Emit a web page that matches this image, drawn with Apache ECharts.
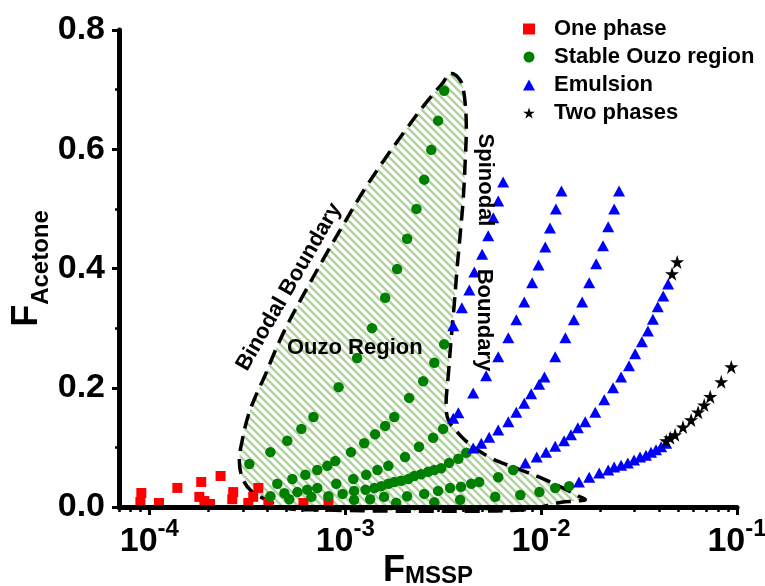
<!DOCTYPE html>
<html>
<head>
<meta charset="utf-8">
<script src="https://cdn.jsdelivr.net/npm/echarts@6/dist/echarts.min.js"></script>
<style>
  html, body { margin: 0; padding: 0; background: #fff; }
  #chart { width: 765px; height: 586px; }
</style>
</head>
<body>
<div id="chart"></div>
<script>
// Phase diagram: F_Acetone against F_MSSP (log scale)

// One phase (red squares)
const onePhase = [
  [9.1e-5, 0.0235], [9.0e-5, 0.0084], [1.12e-4, 0.0067], [1.39e-4, 0.032],
  [1.84e-4, 0.042], [1.80e-4, 0.017], [1.91e-4, 0.010], [2.04e-4, 0.005],
  [2.31e-4, 0.052], [2.68e-4, 0.025], [2.65e-4, 0.013], [3.20e-4, 0.0067],
  [3.39e-4, 0.017], [3.60e-4, 0.032], [4.05e-4, 0.0067], [6.12e-4, 0.0067],
  [8.21e-4, 0.0067]
];

// Stable Ouzo region (green circles)
const ouzoUpper = [
  [3.20e-3, 0.698], [2.98e-3, 0.648], [2.75e-3, 0.599], [2.53e-3, 0.549],
  [2.31e-3, 0.500], [2.07e-3, 0.450], [1.84e-3, 0.399], [1.60e-3, 0.351],
  [1.37e-3, 0.300], [1.15e-3, 0.250], [9.25e-4, 0.201], [6.88e-4, 0.151],
  [5.97e-4, 0.131], [5.06e-4, 0.111], [4.15e-4, 0.092], [3.24e-4, 0.072]
];
const ouzoMiddle = [
  [3.20e-3, 0.273], [2.85e-3, 0.242], [2.50e-3, 0.211], [2.12e-3, 0.183],
  [1.78e-3, 0.151], [1.60e-3, 0.136], [1.42e-3, 0.122], [1.25e-3, 0.107],
  [1.07e-3, 0.092], [8.9e-4, 0.077], [8.1e-4, 0.069], [7.2e-4, 0.062],
  [6.26e-4, 0.054], [5.37e-4, 0.047], [4.50e-4, 0.039]
];
const ouzoLower = [
  [3.16e-3, 0.131], [2.81e-3, 0.116], [2.38e-3, 0.101], [2.02e-3, 0.084],
  [1.66e-3, 0.069], [1.46e-3, 0.062], [1.28e-3, 0.054], [1.10e-3, 0.047],
  [9.0e-4, 0.039], [7.2e-4, 0.032], [6.4e-4, 0.029], [5.7e-4, 0.025],
  [4.89e-4, 0.023]
];
const ouzoBottom = [
  [4.15e-4, 0.018], [5.18e-4, 0.013], [6.72e-4, 0.017], [8.2e-4, 0.018],
  [9.7e-4, 0.022], [1.11e-3, 0.027], [1.11e-3, 0.012], [1.27e-3, 0.029],
  [1.34e-3, 0.013], [1.58e-3, 0.017], [1.82e-3, 0.007], [2.07e-3, 0.018],
  [2.53e-3, 0.022], [2.85e-3, 0.008], [2.98e-3, 0.027], [3.43e-3, 0.032],
  [3.86e-3, 0.012], [3.90e-3, 0.034], [4.40e-3, 0.039], [4.83e-3, 0.042],
  [5.83e-3, 0.017], [6.04e-3, 0.050], [7.2e-3, 0.062], [7.83e-3, 0.020],
  [9.8e-3, 0.025], [1.18e-2, 0.032], [1.39e-2, 0.035]
];
const ouzoCurve = [
  [1.41e-3, 0.032], [1.53e-3, 0.035], [1.66e-3, 0.039], [1.78e-3, 0.042],
  [1.93e-3, 0.044], [2.10e-3, 0.047], [2.25e-3, 0.052], [2.44e-3, 0.055],
  [2.65e-3, 0.059], [2.85e-3, 0.062], [3.09e-3, 0.065], [3.39e-3, 0.074],
  [3.78e-3, 0.081], [4.15e-3, 0.091]
];

// Emulsion (blue triangles)
const emulsionA = [
  [6.4e-3, 0.545], [6.04e-3, 0.513], [5.7e-3, 0.485], [5.37e-3, 0.455],
  [5.0e-3, 0.424], [4.56e-3, 0.394], [4.30e-3, 0.364], [3.94e-3, 0.334],
  [3.56e-3, 0.304]
];
const emulsionB = [
  [1.27e-2, 0.530], [1.19e-2, 0.500], [1.11e-2, 0.468], [1.05e-2, 0.436],
  [9.7e-3, 0.406], [9.0e-3, 0.376], [8.2e-3, 0.344], [7.47e-3, 0.314],
  [6.8e-3, 0.284], [6.04e-3, 0.252], [5.24e-3, 0.220], [4.50e-3, 0.191],
  [3.78e-3, 0.158], [3.56e-3, 0.149]
];
const emulsionC = [
  [2.50e-2, 0.530], [2.36e-2, 0.500], [2.20e-2, 0.470], [2.07e-2, 0.438],
  [1.91e-2, 0.408], [1.76e-2, 0.376], [1.62e-2, 0.344], [1.47e-2, 0.314],
  [1.33e-2, 0.284], [1.18e-2, 0.252], [1.04e-2, 0.218], [9.77e-3, 0.206],
  [8.9e-3, 0.190], [8.2e-3, 0.174], [7.47e-3, 0.159], [6.8e-3, 0.143],
  [6.04e-3, 0.129], [5.43e-3, 0.117], [4.95e-3, 0.107], [4.50e-3, 0.099]
];
const emulsionD = [
  [4.45e-2, 0.374], [4.2e-2, 0.354], [3.94e-2, 0.336], [3.72e-2, 0.315],
  [3.51e-2, 0.295], [3.27e-2, 0.277], [3.02e-2, 0.257], [2.81e-2, 0.237],
  [2.56e-2, 0.218], [2.33e-2, 0.200], [2.10e-2, 0.180], [1.89e-2, 0.159],
  [1.68e-2, 0.143], [1.54e-2, 0.133], [1.42e-2, 0.121], [1.31e-2, 0.111],
  [1.18e-2, 0.102], [1.06e-2, 0.092], [9.5e-3, 0.084], [8.31e-3, 0.074]
];
const emulsionE = [
  [1.56e-2, 0.042], [1.76e-2, 0.050], [1.98e-2, 0.057], [2.20e-2, 0.062],
  [2.36e-2, 0.067], [2.56e-2, 0.070], [2.77e-2, 0.074], [2.98e-2, 0.079],
  [3.20e-2, 0.084], [3.43e-2, 0.087], [3.64e-2, 0.092], [3.86e-2, 0.096],
  [4.10e-2, 0.101], [4.35e-2, 0.107]
];

// Two phases (black stars)
const twoPhases = [
  [4.95e-2, 0.411], [4.66e-2, 0.391], [9.35e-2, 0.235], [8.31e-2, 0.210],
  [7.30e-2, 0.185], [6.8e-2, 0.171], [6.33e-2, 0.159], [5.83e-2, 0.146],
  [5.30e-2, 0.134], [4.83e-2, 0.121], [4.56e-2, 0.116], [4.35e-2, 0.111]
];

// Outline of the Ouzo region (binodal + spinodal boundaries), clockwise from the top
const regionX = [
  3.47e-3, 3.86e-3, 4.05e-3, 4.15e-3, 4.10e-3, 4.0e-3, 3.86e-3, 3.72e-3,
  3.60e-3, 3.47e-3, 3.36e-3, 3.27e-3, 3.36e-3, 3.68e-3, 4.30e-3, 5.56e-3,
  7.47e-3, 1.0e-2, 1.29e-2, 1.56e-2, 1.68e-2, 1.51e-2, 1.27e-2, 1.0e-2,
  7.92e-3, 4.95e-3, 1.93e-3, 7.55e-4, 5.0e-4, 3.95e-4, 3.31e-4, 2.98e-4,
  2.88e-4, 2.98e-4, 3.20e-4, 3.51e-4, 3.90e-4, 4.30e-4, 5.0e-4, 6.19e-4,
  7.83e-4, 9.92e-4, 1.25e-3, 1.58e-3, 2.0e-3, 2.53e-3, 3.09e-3
];
const regionY = [
  0.727, 0.716, 0.691, 0.641, 0.582, 0.515, 0.456, 0.398,
  0.339, 0.280, 0.221, 0.171, 0.146, 0.128, 0.106, 0.082,
  0.065, 0.049, 0.032, 0.018, 0.012, 0.010, 0.008, 0.0,
  -0.005, -0.007, -0.007, -0.005, -0.002, 0.012, 0.027, 0.049,
  0.079, 0.112, 0.154, 0.188, 0.221, 0.255, 0.302, 0.359,
  0.419, 0.477, 0.532, 0.582, 0.629, 0.674, 0.708
];

const xMajorTicks = [1e-4, 1e-3, 1e-2, 1e-1];
const xMinorTicks = [];
[1e-5, 1e-4, 1e-3, 1e-2].forEach(function (d) {
  for (let m = 2; m <= 9; m++) {
    const v = +(m * d).toPrecision(3);
    if (v >= 7e-5 && v <= 0.1) xMinorTicks.push(v);
  }
});
const yTicks = [0, 0.2, 0.4, 0.6, 0.8];

const FONT = "'Liberation Sans', Arial, Helvetica, sans-serif";

// diagonal green hatch used to fill the Ouzo region
function makeHatch() {
  const s = 8;
  const c = document.createElement('canvas');
  c.width = s; c.height = s;
  const ctx = c.getContext('2d');
  ctx.fillStyle = '#ffffff';
  ctx.fillRect(0, 0, s, s);
  ctx.strokeStyle = '#add39a';
  ctx.lineWidth = 2.4;
  [-s, 0, s].forEach(function (o) {
    ctx.beginPath();
    ctx.moveTo(-1, o - 1);
    ctx.lineTo(s + 1, s + o + 1);
    ctx.stroke();
  });
  return c;
}
const hatch = makeHatch();

const starPath = 'path://M50,0L61.23,34.55L97.55,34.55L68.17,55.9L79.39,90.45L50,69.1L20.61,90.45L31.83,55.9L2.45,34.55L38.77,34.55Z';

const chart = echarts.init(document.getElementById('chart'), null, { renderer: 'canvas' });

const legendText = { fontFamily: FONT, fontSize: 22, fontWeight: 'bold', color: '#000', padding: [0, 0, 0, 14] };

const option = {
  animation: false,
  backgroundColor: '#ffffff',
  textStyle: { fontFamily: FONT },
  grid: { left: 119, right: 28, top: 30, bottom: 79, containLabel: false, outerBoundsMode: 'none' },
  legend: {
    orient: 'vertical',
    left: 518,
    top: 13,
    itemWidth: 12,
    itemHeight: 11,
    itemGap: 6,
    data: [
      { name: 'One phase', icon: 'rect', itemStyle: { color: '#ff0000', opacity: 1 } },
      { name: 'Stable Ouzo region', icon: 'circle', itemStyle: { color: '#008000', opacity: 1 } },
      { name: 'Emulsion', icon: 'triangle', itemStyle: { color: '#0000ff', opacity: 1 } },
      { name: 'Two phases', icon: starPath, itemStyle: { color: '#000', opacity: 1 } }
    ],
    textStyle: legendText
  },
  xAxis: [
    {
      type: 'log',
      logBase: 10,
      min: 7e-5,
      max: 0.1,
      z: 10,
      name: '{f|F}{s|MSSP}',
      nameLocation: 'middle',
      nameGap: 46,
      nameMoveOverlap: false,
      nameTextStyle: {
        rich: {
          f: { fontFamily: FONT, fontSize: 36, fontWeight: 'bold', color: '#000', lineHeight: 36, verticalAlign: 'top' },
          s: { fontFamily: FONT, fontSize: 24, fontWeight: 'bold', color: '#000', lineHeight: 24, verticalAlign: 'top', padding: [11, 0, 0, 0] }
        }
      },
      axisLine: { show: true, onZero: false, lineStyle: { color: '#000', width: 5 } },
      axisTick: { show: true, inside: false, length: 8, lineStyle: { color: '#000', width: 3 }, customValues: xMajorTicks },
      axisLabel: {
        show: true,
        margin: 10,
        customValues: xMajorTicks,
        formatter: function (v) {
          const e = Math.round(Math.log10(v));
          return '{b|10}{s|' + e + '}';
        },
        rich: {
          b: { fontFamily: FONT, fontSize: 34, fontWeight: 'bold', color: '#000', lineHeight: 34, verticalAlign: 'top', padding: [8, 0, 0, 0] },
          s: { fontFamily: FONT, fontSize: 24, fontWeight: 'bold', color: '#000', lineHeight: 24, verticalAlign: 'top' }
        }
      },
      splitLine: { show: false },
      minorTick: { show: false }
    },
    {
      type: 'log',
      logBase: 10,
      min: 7e-5,
      max: 0.1,
      z: 10,
      position: 'bottom',
      axisLine: { show: false },
      axisTick: { show: true, length: 5, lineStyle: { color: '#000', width: 2.5 }, customValues: xMinorTicks },
      axisLabel: { show: false },
      splitLine: { show: false }
    }
  ],
  yAxis: {
    type: 'value',
    min: 0,
    max: 0.8,
    interval: 0.2,
    z: 10,
    name: '{f|F}{s|Acetone}',
    nameLocation: 'middle',
    nameGap: 74,
    nameMoveOverlap: false,
    nameTextStyle: {
      rich: {
        f: { fontFamily: FONT, fontSize: 36, fontWeight: 'bold', color: '#000', lineHeight: 36, verticalAlign: 'top' },
        s: { fontFamily: FONT, fontSize: 24, fontWeight: 'bold', color: '#000', lineHeight: 24, verticalAlign: 'top', padding: [20, 0, 0, 0] }
      }
    },
    axisLine: { show: true, onZero: false, lineStyle: { color: '#000', width: 5 } },
    axisTick: { show: true, length: 7, lineStyle: { color: '#000', width: 3 } },
    minorTick: { show: true, splitNumber: 2, length: 4, lineStyle: { color: '#000', width: 2.5 } },
    axisLabel: {
      margin: 14,
      fontFamily: FONT,
      fontSize: 34,
      fontWeight: 'bold',
      color: '#000',
      customValues: yTicks,
      formatter: function (v) { return v.toFixed(1); }
    },
    splitLine: { show: false }
  },
  series: [
    {
      name: 'Ouzo region outline',
      type: 'custom',
      coordinateSystem: 'cartesian2d',
      silent: true,
      z: 1,
      clip: false,
      data: [[regionX[0], regionY[0]]],
      renderItem: function (params, api) {
        const pts = regionX.map(function (x, i) { return api.coord([x, regionY[i]]); });
        return {
          type: 'polygon',
          shape: { points: pts, smooth: 0.35 },
          style: {
            fill: { image: hatch, repeat: 'repeat' },
            stroke: '#000',
            lineWidth: 3.5,
            lineDash: [15, 8]
          }
        };
      }
    },
    {
      name: 'One phase', type: 'scatter', symbol: 'rect', symbolSize: 10, z: 3,
      itemStyle: { color: '#ff0000', opacity: 1 }, data: onePhase
    },
    {
      name: 'Stable Ouzo region', type: 'scatter', symbol: 'circle', symbolSize: 10.5, z: 3,
      itemStyle: { color: '#008000', opacity: 1 },
      data: [].concat(ouzoUpper, ouzoMiddle, ouzoLower, ouzoBottom, ouzoCurve)
    },
    {
      name: 'Emulsion', type: 'scatter', symbol: 'triangle', symbolSize: [12, 11], z: 3,
      itemStyle: { color: '#0000ff', opacity: 1 },
      data: [].concat(emulsionA, emulsionB, emulsionC, emulsionD, emulsionE)
    },
    {
      name: 'Two phases', type: 'scatter', symbol: starPath, symbolSize: 14, z: 4,
      itemStyle: { color: '#000000', opacity: 1 }, data: twoPhases
    }
  ],
  graphic: [
    {
      type: 'text', x: 287, y: 348, z: 5, silent: true,
      style: { text: 'Ouzo Region', font: "bold 22px " + FONT, fill: '#000', align: 'left', verticalAlign: 'middle' }
    },
    {
      type: 'text', x: 289, y: 287, rotation: Math.PI / 3, z: 5, silent: true,
      style: { text: 'Binodal Boundary', font: "bold 22px " + FONT, fill: '#000', align: 'center', verticalAlign: 'middle' }
    },
    {
      type: 'text', x: 485, y: 180, rotation: -Math.PI / 2, z: 5, silent: true,
      style: { text: 'Spinodal', font: "bold 22px " + FONT, fill: '#000', align: 'center', verticalAlign: 'middle' }
    },
    {
      type: 'text', x: 484, y: 320, rotation: -Math.PI / 2, z: 5, silent: true,
      style: { text: 'Boundary', font: "bold 22px " + FONT, fill: '#000', align: 'center', verticalAlign: 'middle' }
    }
  ]
};

chart.setOption(option);
</script>
</body>
</html>
